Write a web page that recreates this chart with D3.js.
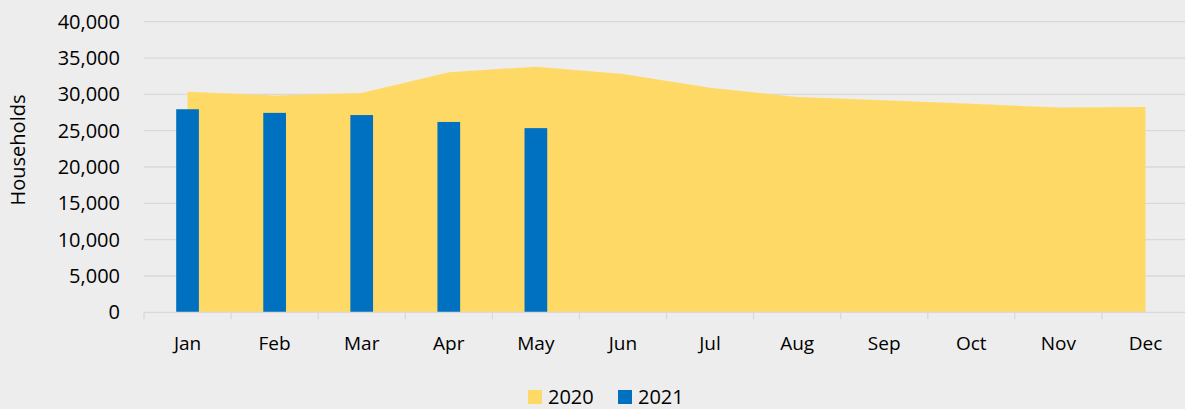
<!DOCTYPE html>
<html lang="en">
<head>
<meta charset="utf-8">
<style>
  body { margin: 0; background: #ededed; }
  svg { display: block; background: #ededed; font-family: "Open Sans", sans-serif; }
</style>
</head>
<body>
<script src="https://cdn.jsdelivr.net/npm/d3@7"></script>
<script>
// chart data
var months = ["Jan","Feb","Mar","Apr","May","Jun","Jul","Aug","Sep","Oct","Nov","Dec"];
var households2020 = [30350, 29850, 30200, 33050, 33800, 32800, 30900, 29650, 29200, 28700, 28200, 28250];
var households2021 = [27950, 27450, 27150, 26200, 25350];
var yTicks = [0, 5000, 10000, 15000, 20000, 25000, 30000, 35000, 40000];

var width = 1185, height = 409;
var plotLeft = 144, plotRight = 1189, plotTop = 21.7, plotBottom = 312.3;

var svg = d3.select("body").append("svg")
    .attr("width", width)
    .attr("height", height);

var x = d3.scaleBand().domain(months).range([plotLeft, plotRight]);
var y = d3.scaleLinear().domain([0, 40000]).range([plotBottom, plotTop]);
var cx = function(m) { return x(m) + x.bandwidth() / 2; };

// gridlines
svg.append("g").selectAll("line")
    .data(yTicks.slice(1))
    .enter().append("line")
    .attr("x1", plotLeft).attr("x2", width)
    .attr("y1", function(d) { return y(d); })
    .attr("y2", function(d) { return y(d); })
    .attr("stroke", "#d9d9d9")
    .attr("stroke-width", 1.3);

// 2020 area
var area = d3.area()
    .x(function(d, i) { return cx(months[i]); })
    .y0(y(0))
    .y1(function(d) { return y(d); });

svg.append("path")
    .datum(households2020)
    .attr("d", area)
    .attr("fill", "#ffd966");

// 2021 bars
var barW = 22.7;
svg.append("g").selectAll("rect")
    .data(households2021)
    .enter().append("rect")
    .attr("x", function(d, i) { return cx(months[i]) - barW / 2; })
    .attr("y", function(d) { return y(d); })
    .attr("width", barW)
    .attr("height", function(d) { return y(0) - y(d); })
    .attr("fill", "#0070c0");

// x axis
var gx = svg.append("g").attr("transform", "translate(0," + plotBottom + ")");
gx.append("line").attr("x1", plotLeft).attr("x2", width)
    .attr("stroke", "#d9d9d9").attr("stroke-width", 1.3);
gx.selectAll("line.tick")
    .data(d3.range(13))
    .enter().append("line")
    .attr("class", "tick")
    .attr("x1", function(i) { return plotLeft + i * x.step(); })
    .attr("x2", function(i) { return plotLeft + i * x.step(); })
    .attr("y1", 0).attr("y2", 7)
    .attr("stroke", "#d9d9d9").attr("stroke-width", 1.3);
gx.selectAll("text.month")
    .data(months)
    .enter().append("text")
    .attr("class", "month")
    .attr("x", function(m) { return cx(m); })
    .attr("y", 37.5)
    .attr("text-anchor", "middle")
    .attr("font-size", 19)
    .attr("fill", "#000")
    .text(function(m) { return m; });

// y axis labels
svg.append("g").selectAll("text")
    .data(yTicks)
    .enter().append("text")
    .attr("x", 120)
    .attr("y", function(d) { return y(d) + 7; })
    .attr("text-anchor", "end")
    .attr("font-size", 20)
    .attr("fill", "#000")
    .text(function(d) { return d3.format(",")(d); });

svg.append("text")
    .attr("transform", "translate(25,150) rotate(-90)")
    .attr("text-anchor", "middle")
    .attr("font-size", 20)
    .attr("fill", "#000")
    .text("Households");

// legend
var legend = [
  {label: "2020", color: "#ffd966", x: 528},
  {label: "2021", color: "#0070c0", x: 618}
];
var lg = svg.append("g").selectAll("g")
    .data(legend)
    .enter().append("g")
    .attr("transform", function(d) { return "translate(" + d.x + ",390)"; });
lg.append("rect").attr("width", 14).attr("height", 14)
    .attr("fill", function(d) { return d.color; });
lg.append("text").attr("x", 20).attr("y", 14)
    .attr("font-size", 20).attr("fill", "#000")
    .text(function(d) { return d.label; });
</script>
</body>
</html>
